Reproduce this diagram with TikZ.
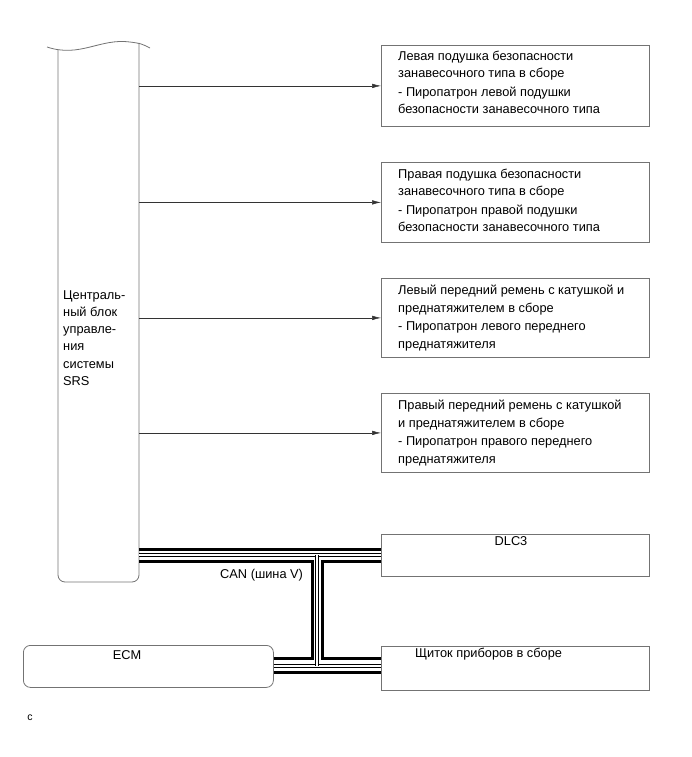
\documentclass[tikz,border=0pt]{standalone}
\usepackage{fontspec}
\setmainfont{Liberation Sans}
\usetikzlibrary{arrows.meta,calc}
\begin{document}
\begin{tikzpicture}[x=1pt,y=-1pt]
\tikzset{
  frame/.style={draw=black!55, line width=0.8pt},
  box/.style={frame, anchor=north west, inner sep=0pt, minimum width=268pt},
  txt/.style={font=\fontsize{12.8}{17.3}\selectfont, align=left, anchor=north west, inner sep=0pt},
  arr/.style={draw=black!80, line width=0.5pt, -{Latex[length=9pt,width=4.5pt]}},
  busthick/.style={line width=3pt, draw=black},
  buscore/.style={draw=black, line width=0.6pt, double=white, double distance=2.2pt}
}
\useasboundingbox (0,0) rectangle (691,757);
% central unit
\node[minimum width=81pt, minimum height=538pt, anchor=north west, inner sep=0pt] (ecu) at (58,44) {};
\draw[frame] (47,47) .. controls (80,58) and (100,38) .. (130,42) .. controls (141,43.5) .. (150,48);
\draw[frame] (58,50) -- (58,575) arc[start angle=180, end angle=90, x radius=7pt, y radius=-7pt] -- (132,582)
  arc[start angle=90, end angle=0, x radius=7pt, y radius=-7pt] -- (139,43);
\node[txt] (ecutxt) at (63,290) {Централь-\\ный блок\\управле-\\ния\\системы\\SRS};
% right boxes
\node[box, minimum height=81pt] (b1) at (381,45) {};
\node[box, minimum height=80pt] (b2) at (381,162) {};
\node[box, minimum height=79pt] (b3) at (381,278) {};
\node[box, minimum height=79pt] (b4) at (381,393) {};
\node[txt] (t1) at (398,51) {Левая подушка безопасности\\занавесочного типа в сборе\\[1.5pt]- Пиропатрон левой подушки\\безопасности занавесочного типа};
\node[txt] (t2) at (398,169) {Правая подушка безопасности\\занавесочного типа в сборе\\[1.5pt]- Пиропатрон правой подушки\\безопасности занавесочного типа};
\node[txt] (t3) at (398,285) {Левый передний ремень с катушкой и\\преднатяжителем в сборе\\[1.5pt]- Пиропатрон левого переднего\\преднатяжителя};
\node[txt] (t4) at (398,400) {Правый передний ремень с катушкой\\и преднатяжителем в сборе\\[1.5pt]- Пиропатрон правого переднего\\преднатяжителя};
\foreach \b in {b1,b2,b3,b4} \draw[arr] (ecu.east |- \b.west) -- (\b.west);
% CAN boxes
\node[box, minimum height=42pt] (dlc) at (381,534) {};
\node[box, minimum height=44pt] (ipc) at (381,646) {};
\node[box, minimum width=250pt, minimum height=42pt, rounded corners=7pt] (ecm) at (23,645) {};
\node[txt, anchor=center] (dlct) at (511,541) {DLC3};
\node[txt, anchor=west] (ipct) at (415,654) {Щиток приборов в сборе};
\node[txt, anchor=center] (ecmt) at (127,655) {ECM};
% bus
\coordinate (yA) at (0,549);
\coordinate (yB) at (0,555);
\coordinate (yC) at (0,561);
\coordinate (yD) at (0,658);
\coordinate (yE) at (0,666);
\coordinate (yF) at (0,672);
\coordinate (xL) at (312,0);
\coordinate (xM) at (317,0);
\coordinate (xR) at (322,0);
\draw[busthick] (ecu.east |- yA) -- (dlc.west |- yA);
\draw[busthick] (ecu.east |- yC) -- (xL |- yC) -- (xL |- yD) -- (ecm.east |- yD);
\draw[busthick] (dlc.west |- yC) -- (xR |- yC) -- (xR |- yD) -- (ipc.west |- yD);
\draw[busthick] (ecm.east |- yF) -- (ipc.west |- yF);
\draw[buscore] (ecu.east |- yB) -- (dlc.west |- yB);
\draw[buscore] (ecm.east |- yE) -- (ipc.west |- yE);
\draw[buscore] (xM |- yB) -- (xM |- yE);
\node[txt, anchor=west] (can) at (220,575) {CAN (шина V)};
\node[font=\fontsize{10.5}{12}\selectfont, inner sep=0pt] (c) at (30,718) {c};
\end{tikzpicture}
\end{document}
